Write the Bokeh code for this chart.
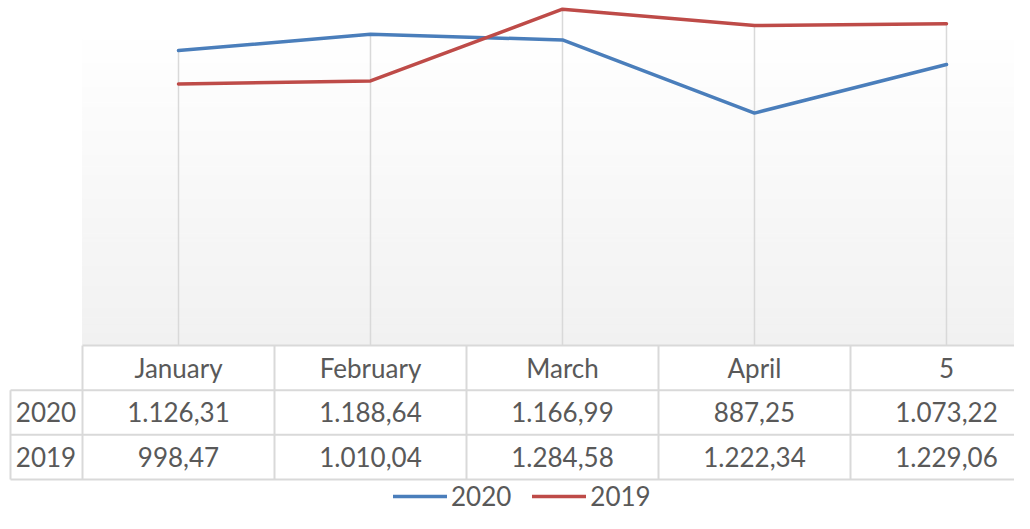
from bokeh.plotting import figure
from bokeh.models import Range1d, Legend, LegendItem
from bokeh.core.properties import value
from bokeh.embed import file_html
from bokeh.resources import INLINE

# ---- data ----
categories = ["January", "February", "March", "April", "5"]
series_names = ["2020", "2019"]
values_2020 = [1126.31, 1188.64, 1166.99, 887.25, 1073.22]
values_2019 = [998.47, 1010.04, 1284.58, 1222.34, 1229.06]

# ---- style ----
FONT = "Lato"
FSIZE = "26px"
TXT = "#595959"
GRID = "#d9d9d9"
BLUE = "#4a7ebb"
RED = "#be4b48"
W, H = 1014, 513
PLOT_TOP = 1215.0


def eu(v):
    s = f"{v:,.2f}"
    return s.replace(",", "X").replace(".", ",").replace("X", ".")


idx = list(range(len(categories)))

p = figure(width=W, height=H, output_backend="svg", toolbar_location=None,
           x_range=Range1d(-0.9271, 4.3542), y_range=Range1d(-644.6, 1317.9),
           x_axis_type=None, y_axis_type=None, min_border=0,
           outline_line_color=None, background_fill_color="white",
           border_fill_color="white")
p.extra_y_ranges = {"rows": Range1d(start=3.761, end=-7.723)}

# plot-area gradient background
N = 80
bots = [PLOT_TOP * k / N for k in range(N)]
tops = [PLOT_TOP * (k + 1) / N for k in range(N)]
cols = []
for k in range(N):
    t = k / (N - 1)
    c = int(round(241 + 14 * t))
    cols.append("#%02x%02x%02x" % (c, c, c))
p.quad(left=-0.5, right=6, bottom=bots, top=tops, fill_color=cols,
       line_color=cols, line_width=1)

# drop lines
drop_top = [max(a, b) for a, b in zip(values_2020, values_2019)]
p.segment(x0=idx, y0=[0] * len(idx), x1=idx, y1=drop_top,
          line_color=GRID, line_width=1.5)

# series lines
r1 = p.line(idx, values_2020, line_color=BLUE, line_width=3.5,
            line_cap="round", line_join="round")
r2 = p.line(idx, values_2019, line_color=RED, line_width=3.5,
            line_cap="round", line_join="round")

# data table borders
hx0 = [-0.5, -0.875, -0.875, -0.875]
hy = [0, 1, 2, 3]
p.segment(x0=hx0, y0=hy, x1=[6] * 4, y1=hy, y_range_name="rows",
          line_color=GRID, line_width=2)
vx = [-0.875] + [i - 0.5 for i in range(len(categories) + 1)]
vy0 = [1] + [0] * (len(categories) + 1)
p.segment(x0=vx, y0=vy0, x1=vx, y1=[3] * len(vx), y_range_name="rows",
          line_color=GRID, line_width=2)

# table text
p.text(x=idx, y=[0.5] * len(idx), text=categories, y_range_name="rows",
       text_align="center", text_baseline="middle", text_font=value(FONT),
       text_font_size=FSIZE, text_color=TXT)
vals_x = idx + idx
vals_y = [1.5] * len(idx) + [2.5] * len(idx)
vals_t = [eu(v) for v in values_2020] + [eu(v) for v in values_2019]
p.text(x=vals_x, y=vals_y, text=vals_t, y_range_name="rows",
       text_align="center", text_baseline="middle", text_font=value(FONT),
       text_font_size=FSIZE, text_color=TXT)
p.text(x=[-0.69, -0.69], y=[1.5, 2.5], text=series_names, y_range_name="rows",
       text_align="center", text_baseline="middle", text_font=value(FONT),
       text_font_size=FSIZE, text_color=TXT)

legend = Legend(items=[LegendItem(label=series_names[0], renderers=[r1]),
                       LegendItem(label=series_names[1], renderers=[r2])],
                orientation="horizontal", location=(393, 1),
                glyph_width=54, glyph_height=20, label_standoff=4, spacing=21,
                padding=0, margin=0, border_line_color=None,
                background_fill_alpha=0, label_text_font=FONT,
                label_text_font_size=FSIZE, label_text_color=TXT)
p.add_layout(legend)

open("out.html", "w").write(file_html(p, INLINE))
